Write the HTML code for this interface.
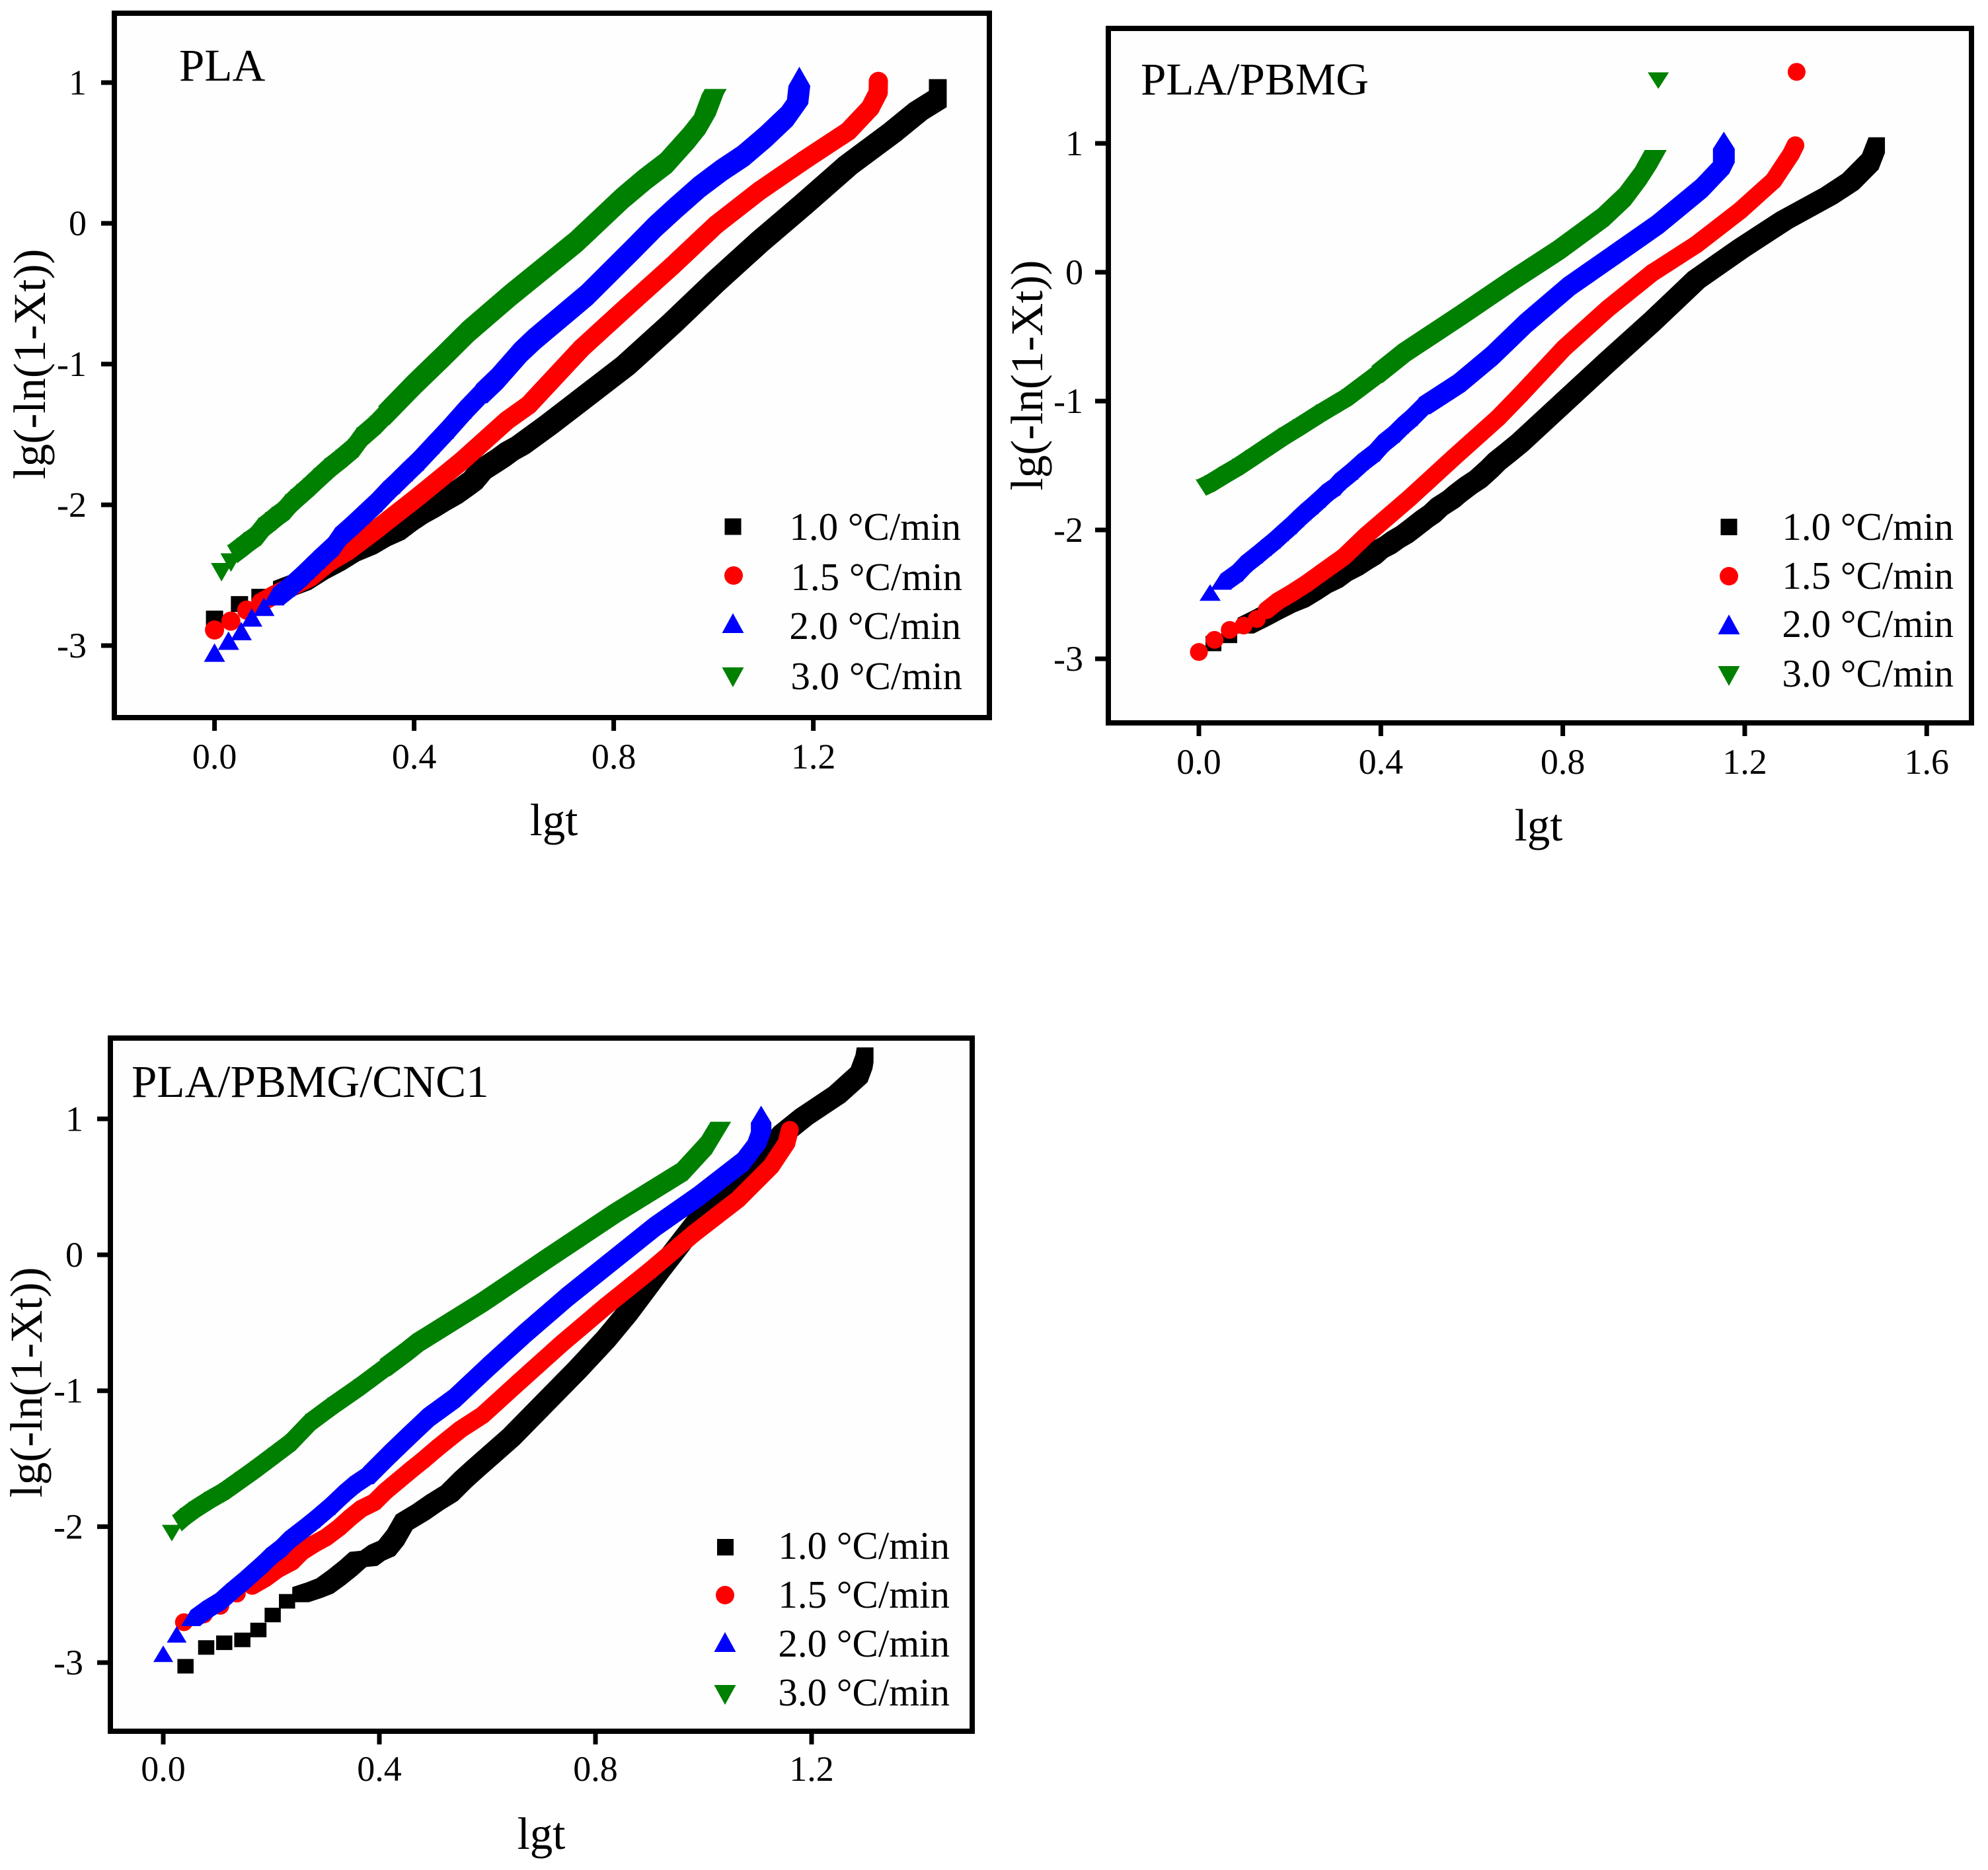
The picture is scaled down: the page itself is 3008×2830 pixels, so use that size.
<!DOCTYPE html>
<html lang="en">
<head>
<meta charset="utf-8">
<title>Avrami plots of PLA, PLA/PBMG and PLA/PBMG/CNC1</title>
<style>
html,body{margin:0;padding:0;background:#fff;}
svg{display:block;font-family:"Liberation Serif",serif;fill:#000;}
.frame{fill:#fefefe;stroke:#000;stroke-width:8;}
.title{font-size:69px;}
.axt{font-size:69px;}
.leg{font-size:59px;text-anchor:end;}
.tick-label{font-size:54px;}
</style>
</head>
<body>
<svg id="chart" xmlns="http://www.w3.org/2000/svg" width="3008" height="2830" viewBox="0 0 3008 2830">
  <rect x="0" y="0" width="3008" height="2830" fill="#ffffff"/>

  <g id="panel-pla">
    <rect class="frame" x="173" y="20" width="1324" height="1066"/>
    <g id="pla-ticks"></g>
    <g id="pla-marks"></g>
    <text class="title" x="271" y="122">PLA</text>
    <text class="axt" x="838" y="1264" text-anchor="middle">lgt</text>
    <text class="axt" transform="translate(68,551) rotate(-90)" text-anchor="middle">lg(-ln(1-Xt))</text>
    <g>
      <rect x="1096.5" y="784.5" width="25" height="25" fill="#000"/>
      <circle cx="1110" cy="871" r="14" fill="#ff0000"/>
      <polygon points="1109,928 1092.5,958 1125.5,958" fill="#0000ff"/>
      <polygon points="1092.5,1010 1125.5,1010 1109,1040" fill="#008000"/>
      <text class="leg" x="1454" y="817">1.0 °C/min</text>
      <text class="leg" x="1456" y="893">1.5 °C/min</text>
      <text class="leg" x="1454" y="967">2.0 °C/min</text>
      <text class="leg" x="1456" y="1043">3.0 °C/min</text>
    </g>
  </g>

  <g id="panel-pbmg">
    <rect class="frame" x="1677" y="43" width="1306" height="1051"/>
    <g id="pbmg-ticks"></g>
    <g id="pbmg-marks"></g>
    <text class="title" x="1726" y="143">PLA/PBMG</text>
    <text class="axt" x="2328" y="1272" text-anchor="middle">lgt</text>
    <text class="axt" transform="translate(1577,568) rotate(-90)" text-anchor="middle">lg(-ln(1-Xt))</text>
    <g>
      <rect x="2603.5" y="785" width="25" height="25" fill="#000"/>
      <circle cx="2616" cy="872" r="14" fill="#ff0000"/>
      <polygon points="2616,930 2599.5,960 2632.5,960" fill="#0000ff"/>
      <polygon points="2599.5,1008 2632.5,1008 2616,1038" fill="#008000"/>
      <text class="leg" x="2956" y="817">1.0 °C/min</text>
      <text class="leg" x="2956" y="891">1.5 °C/min</text>
      <text class="leg" x="2956" y="964">2.0 °C/min</text>
      <text class="leg" x="2956" y="1039">3.0 °C/min</text>
    </g>
  </g>

  <g id="panel-cnc">
    <rect class="frame" x="167" y="1571" width="1304" height="1049"/>
    <g id="cnc-ticks"></g>
    <g id="cnc-marks"></g>
    <text class="title" x="199" y="1660">PLA/PBMG/CNC1</text>
    <text class="axt" x="819" y="2798" text-anchor="middle">lgt</text>
    <text class="axt" transform="translate(63,2092) rotate(-90)" text-anchor="middle">lg(-ln(1-Xt))</text>
    <g>
      <rect x="1085" y="2329" width="25" height="25" fill="#000"/>
      <circle cx="1097" cy="2414" r="14" fill="#ff0000"/>
      <polygon points="1097,2470 1080.5,2500 1113.5,2500" fill="#0000ff"/>
      <polygon points="1080.5,2550 1113.5,2550 1097,2580" fill="#008000"/>
      <text class="leg" x="1437" y="2359">1.0 °C/min</text>
      <text class="leg" x="1437" y="2433">1.5 °C/min</text>
      <text class="leg" x="1437" y="2507">2.0 °C/min</text>
      <text class="leg" x="1437" y="2581">3.0 °C/min</text>
    </g>
  </g>
</svg>

<script>
// ---- tick values ----
const plaXTicks = [0, 0.4, 0.8, 1.2];
const pbmgXTicks = [0, 0.4, 0.8, 1.2, 1.6];
const cncXTicks = [0, 0.4, 0.8, 1.2];
const yTicks = [-3, -2, -1, 0, 1];

// ---- PLA ----
const pla10X = [0,.05,.091,.135,.1758,.211,.2442,.2729,.3074,.3338,.3634,.3877,.4098,.4319,.4539,.4782,.5,.518,.5356,.5546,.573,.591,.6128,.6694,.72,.824,.916,1.005,1.093,1.181,1.27,1.358,1.411,1.4495,1.4495];
const pla10Y = [-2.808,-2.705,-2.653,-2.6,-2.545,-2.466,-2.404,-2.341,-2.29,-2.235,-2.188,-2.122,-2.07,-2.027,-1.979,-1.93,-1.875,-1.828,-1.753,-1.71,-1.668,-1.621,-1.578,-1.432,-1.294,-1.01,-.714,-.413,-.13,.136,.413,.645,.798,.883,.966];
const pla15X = [0,.0327,.0645,.0932,.12,.1484,.1926,.228,.2677,.3206,.409,.497,.5855,.6297,.7356,.828,.916,1.005,1.093,1.181,1.27,1.314,1.33,1.3304];
const pla15Y = [-2.889,-2.826,-2.748,-2.693,-2.64,-2.592,-2.513,-2.411,-2.326,-2.185,-1.939,-1.684,-1.402,-1.29,-.887,-.588,-.307,-.01,.233,.447,.655,.82,.93,1.008];
const pla20X = [0,.028,.0535,.0747,.099,.1188,.1409,.165,.2,.229,.2425,.266,.29,.3153,.3396,.3515,.377,.399,.43,.4588,.4941,.525,.556,.6032,.63,.7356,.828,.8725,.916,.9608,1.005,1.049,1.093,1.137,1.168,1.172];
const pla20Y = [-3.05,-2.965,-2.897,-2.8,-2.724,-2.649,-2.587,-2.51,-2.39,-2.294,-2.224,-2.15,-2.07,-1.986,-1.895,-1.856,-1.767,-1.692,-1.574,-1.465,-1.324,-1.21,-1.105,-.915,-.825,-.51,-.184,-.024,.117,.257,.375,.479,.612,.76,.915,1.042];
const pla30X = [.014,.033,.046,.0645,.0787,.0932,.1078,.122,.135,.149,.1616,.1727,.1846,.198,.219,.241,.263,.288,.305,.332,.35,.409,.4707,.519,.6032,.7356,.828,.8725,.916,.9608,.9826,.9983,1.004];
const pla30Y = [-2.479,-2.41,-2.35,-2.30,-2.26,-2.224,-2.158,-2.118,-2.08,-2.044,-1.992,-1.955,-1.918,-1.876,-1.806,-1.735,-1.673,-1.598,-1.516,-1.433,-1.366,-1.151,-.939,-.769,-.512,-.131,.178,.311,.429,.606,.703,.851,.887];

// ---- PLA/PBMG ----
const pbmg10X = [.032,.0668,.1032,.1346,.1661,.1952,.2228,.2509,.2727,.2983,.3177,.3429,.3623,.3816,.3971,.4155,.4325,.4528,.4688,.4955,.5124,.5293,.5545,.5681,.5923,.6141,.6383,.6553,.6795,.7061,.8029,.8998,.9966,1.0935,1.1903,1.2872,1.3841,1.4326,1.476,1.49];
const pbmg10Y = [-2.882,-2.819,-2.742,-2.687,-2.628,-2.576,-2.537,-2.477,-2.426,-2.383,-2.332,-2.286,-2.241,-2.2,-2.152,-2.118,-2.075,-2.033,-1.99,-1.916,-1.875,-1.819,-1.762,-1.721,-1.656,-1.605,-1.528,-1.468,-1.4,-1.323,-1.007,-.691,-.383,-.058,.181,.404,.591,.703,.858,.986];
const pbmg15X = [0,.0344,.0678,.0983,.1274,.1491,.1734,.2024,.2363,.2702,.3187,.367,.464,.5607,.6577,.7061,.8029,.8998,.9966,1.0935,1.1903,1.2631,1.3016,1.3112,1.314];
const pbmg15Y = [-2.947,-2.853,-2.776,-2.742,-2.691,-2.622,-2.554,-2.494,-2.417,-2.331,-2.209,-2.045,-1.75,-1.437,-1.13,-.954,-.588,-.28,-.005,.215,.48,.711,.916,.985,1.555];
const pbmg20X = [.0247,.0489,.0746,.0939,.1182,.1376,.1569,.1749,.1928,.2088,.2247,.2402,.2562,.2717,.2887,.2998,.3274,.3506,.3758,.3952,.4194,.4388,.4582,.4848,.5608,.6334,.7061,.8029,.8998,.9966,1.0935,1.1419,1.154,1.154];
const pbmg20Y = [-2.486,-2.4,-2.335,-2.263,-2.195,-2.138,-2.082,-2.024,-1.968,-1.913,-1.861,-1.814,-1.763,-1.711,-1.669,-1.626,-1.546,-1.472,-1.404,-1.327,-1.258,-1.19,-1.13,-1.036,-.862,-.648,-.4,-.108,.13,.369,.651,.831,.916,1.022];
const pbmg30X = [.016,.0354,.0668,.0959,.1249,.1613,.1976,.229,.2799,.3356,.4034,.464,.585,.7061,.8029,.8998,.9482,.9822,1.0039,1.01];
const pbmg30Y = [-1.672,-1.639,-1.571,-1.511,-1.443,-1.357,-1.272,-1.204,-1.09,-.973,-.793,-.622,-.34,-.05,.173,.424,.585,.745,.882,1.487];

// ---- PLA/PBMG/CNC1 ----
const cnc10X = [.0412,.0795,.1129,.1464,.1761,.2026,.2291,.2544,.2789,.2993,.3217,.3421,.3605,.3808,.3951,.4135,.4298,.4461,.4767,.5032,.5297,.5542,.5766,.6438,.7661,.8192,.8599,.9209,.9904,1.0312,1.1046,1.1454,1.1861,1.2472,1.288,1.297,1.299];
const cnc10Y = [-3.027,-2.889,-2.854,-2.833,-2.76,-2.65,-2.549,-2.5,-2.468,-2.436,-2.371,-2.306,-2.241,-2.233,-2.192,-2.16,-2.079,-1.966,-1.893,-1.82,-1.755,-1.658,-1.577,-1.342,-.847,-.621,-.426,-.102,.254,.369,.692,.886,1.016,1.178,1.324,1.421,1.47];
const cnc15X = [.0383,.075,.1056,.1362,.1647,.1892,.2116,.2381,.2564,.2789,.3013,.3258,.3462,.3666,.391,.4114,.4359,.4603,.4807,.5093,.55,.5908,.66,.7376,.8192,.9006,.9822,1.0638,1.1249,1.1535,1.1597];
const cnc15Y = [-2.703,-2.646,-2.582,-2.492,-2.435,-2.379,-2.314,-2.258,-2.185,-2.128,-2.079,-2.006,-1.933,-1.868,-1.82,-1.739,-1.658,-1.577,-1.512,-1.415,-1.285,-1.18,-.93,-.653,-.378,-.118,.157,.408,.651,.822,.919];
const cnc20X = [0,.0249,.0514,.0738,.0975,.118,.1402,.1586,.1769,.1912,.2096,.2259,.2524,.2728,.3013,.327,.3462,.3706,.4114,.4473,.482,.5297,.5908,.66,.7376,.8192,.9006,.9822,1.0638,1.0964,1.1066,1.1066];
const cnc20Y = [-2.935,-2.792,-2.671,-2.606,-2.549,-2.476,-2.403,-2.338,-2.273,-2.217,-2.16,-2.095,-2.014,-1.949,-1.852,-1.755,-1.69,-1.625,-1.463,-1.326,-1.196,-1.058,-.83,-.58,-.313,-.053,.206,.433,.684,.854,.967,1.032];
const cnc30X = [.0159,.0343,.0485,.0648,.0934,.1219,.1505,.179,.2116,.2442,.2809,.3217,.3706,.4196,.4603,.4807,.603,.7254,.8477,.97,1.0148,1.0316];
const cnc30Y = [-2.047,-1.974,-1.925,-1.877,-1.804,-1.739,-1.658,-1.577,-1.48,-1.382,-1.23,-1.11,-.975,-.83,-.71,-.645,-.342,-.013,.311,.611,.805,.916];

const SVGNS = 'http://www.w3.org/2000/svg';
const COLORS = {sq:'#000000', ci:'#ff0000', up:'#0000ff', dn:'#008000'};
const CORE_SCALE = {sq:1, up:.92, dn:.92};

function make(tag, attrs, parent) {
  const el = document.createElementNS(SVGNS, tag);
  for (const k in attrs) el.setAttribute(k, attrs[k]);
  parent.appendChild(el);
  return el;
}

// vertices of a polygonal marker centred on a pixel position
function shape(kind, px, py, m, scale) {
  if (kind === 'sq') {
    const a = scale * m.sqW / 2, b = scale * m.sqH / 2;
    return [[px-a,py-b],[px+a,py-b],[px+a,py+b],[px-a,py+b]];
  }
  const w = scale * m.triW / 2, h = scale * m.triH / 2;
  if (kind === 'up') return [[px,py-h],[px+w,py+h],[px-w,py+h]];
  return [[px-w,py-h],[px+w,py-h],[px,py+h]];
}

function hull(points) {
  const p = points.slice().sort(function (a, b) { return a[0]-b[0] || a[1]-b[1]; });
  const cross = function (o, a, b) { return (a[0]-o[0])*(b[1]-o[1]) - (a[1]-o[1])*(b[0]-o[0]); };
  const lo = [], up = [];
  p.forEach(function (q) {
    while (lo.length > 1 && cross(lo[lo.length-2], lo[lo.length-1], q) <= 0) lo.pop();
    lo.push(q);
  });
  p.slice().reverse().forEach(function (q) {
    while (up.length > 1 && cross(up[up.length-2], up[up.length-1], q) <= 0) up.pop();
    up.push(q);
  });
  lo.pop(); up.pop();
  return lo.concat(up);
}

function drawAxes(panel) {
  const g = document.getElementById(panel.id + '-ticks');
  panel.xTicks.forEach(function (v) {
    const px = panel.xAt(v);
    const t = make('line', {x1:px, x2:px, y1:panel.bottom, y2:panel.bottom+20, stroke:'#000', 'stroke-width':7}, g);
    
    
    const l = make('text', {x:px, y:panel.xLabelY, 'text-anchor':'middle', class:'tick-label'}, g);
    l.textContent = v.toFixed(1);
    
    
  });
  yTicks.forEach(function (v) {
    const py = panel.yAt(v);
    const t = make('line', {x1:panel.left-20, x2:panel.left, y1:py, y2:py, stroke:'#000', 'stroke-width':7}, g);
    
    
    const l = make('text', {x:panel.yLabelX, y:py+18, 'text-anchor':'end', class:'tick-label'}, g);
    l.textContent = String(v);
    
    
  });
}

function drawSeries(panel, s) {
  const g = document.getElementById(panel.id + '-marks');
  const m = panel.marker;
  const color = COLORS[s.kind];
  const group = make('g', {}, g);
  
  

  // Where the real markers merge into a solid band, sweep the marker shape between readings.
  // A slimmer core runs through the toothed part; the full sweep takes over from bandFromX.
  // A large vertical jump with almost no x change is an isolated outlier and stays unjoined.
  let d = '';
  for (let i = 1; i < s.x.length; i++) {
    if (s.x[i-1] < s.coreFromX) continue;
    if (Math.abs(s.y[i] - s.y[i-1]) > 0.4 && Math.abs(s.x[i] - s.x[i-1]) < 0.02) continue;
    const ax = panel.xAt(s.x[i-1]), ay = panel.yAt(s.y[i-1]);
    const bx = panel.xAt(s.x[i]), by = panel.yAt(s.y[i]);
    if (s.kind === 'ci') {
      d += 'M' + ax + ' ' + ay + 'L' + bx + ' ' + by;
    } else {
      const k = s.x[i-1] >= s.bandFromX ? 1 : CORE_SCALE[s.kind];
      const h = hull(shape(s.kind, ax, ay, m, k).concat(shape(s.kind, bx, by, m, k)));
      d += 'M' + h.map(function (q) { return q[0] + ' ' + q[1]; }).join('L') + 'Z';
    }
  }
  if (d) {
    const band = s.kind === 'ci'
      ? make('path', {d:d, fill:'none', stroke:color, 'stroke-width':2*m.r, 'stroke-linecap':'round', 'stroke-linejoin':'round'}, group)
      : make('path', {d:d, fill:color, stroke:color, 'stroke-width':1}, group);
    
    
  }

  for (let i = 0; i < s.x.length; i++) {
    const px = panel.xAt(s.x[i]), py = panel.yAt(s.y[i]);
    let el;
    if (s.kind === 'ci') {
      el = make('circle', {cx:px, cy:py, r:m.r, fill:color}, group);
    } else {
      const pts = shape(s.kind, px, py, m, 1).map(function (q) { return q.join(','); }).join(' ');
      el = make('polygon', {points:pts, fill:color}, group);
    }
    
    
  }
}

const panels = [
  {id:'pla', left:173, bottom:1086, xLabelY:1163, yLabelX:131, xTicks:plaXTicks,
   marker:{sqW:26, sqH:24, r:14.5, triW:32, triH:28},
   xAt:function(v){return 324.6+v*755;}, yAt:function(v){return 338-v*213;},
   series:[
     {label:'1-0', kind:'sq', x:pla10X, y:pla10Y, coreFromX:.13, bandFromX:.6},
     {label:'1-5', kind:'ci', x:pla15X, y:pla15Y, coreFromX:.09, bandFromX:.09},
     {label:'2-0', kind:'up', x:pla20X, y:pla20Y, coreFromX:.1, bandFromX:.5},
     {label:'3-0', kind:'dn', x:pla30X, y:pla30Y, coreFromX:.04, bandFromX:.34}
   ]},
  {id:'pbmg', left:1677, bottom:1094, xLabelY:1171, yLabelX:1639, xTicks:pbmgXTicks,
   marker:{sqW:24, sqH:23, r:13.5, triW:32, triH:25},
   xAt:function(v){return 1814+v*688.3;}, yAt:function(v){return 412-v*195;},
   series:[
     {label:'1-0', kind:'sq', x:pbmg10X, y:pbmg10Y, coreFromX:.1, bandFromX:.6},
     {label:'1-5', kind:'ci', x:pbmg15X, y:pbmg15Y, coreFromX:.13, bandFromX:.13},
     {label:'2-0', kind:'up', x:pbmg20X, y:pbmg20Y, coreFromX:.03, bandFromX:.48},
     {label:'3-0', kind:'dn', x:pbmg30X, y:pbmg30Y, coreFromX:.016, bandFromX:.4}
   ]},
  {id:'cnc', left:167, bottom:2620, xLabelY:2695, yLabelX:126, xTicks:cncXTicks,
   marker:{sqW:24.5, sqH:22, r:13.5, triW:30, triH:25},
   xAt:function(v){return 247+v*817.5;}, yAt:function(v){return 1899-v*205.7;},
   series:[
     {label:'1-0', kind:'sq', x:cnc10X, y:cnc10Y, coreFromX:.23, bandFromX:.55},
     {label:'1-5', kind:'ci', x:cnc15X, y:cnc15Y, coreFromX:.16, bandFromX:.16},
     {label:'2-0', kind:'up', x:cnc20X, y:cnc20Y, coreFromX:.05, bandFromX:.37},
     {label:'3-0', kind:'dn', x:cnc30X, y:cnc30Y, coreFromX:.03, bandFromX:.4}
   ]}
];

panels.forEach(function (p) {
  drawAxes(p);
  p.series.forEach(function (s) { drawSeries(p, s); });
});
</script>
</body>
</html>
